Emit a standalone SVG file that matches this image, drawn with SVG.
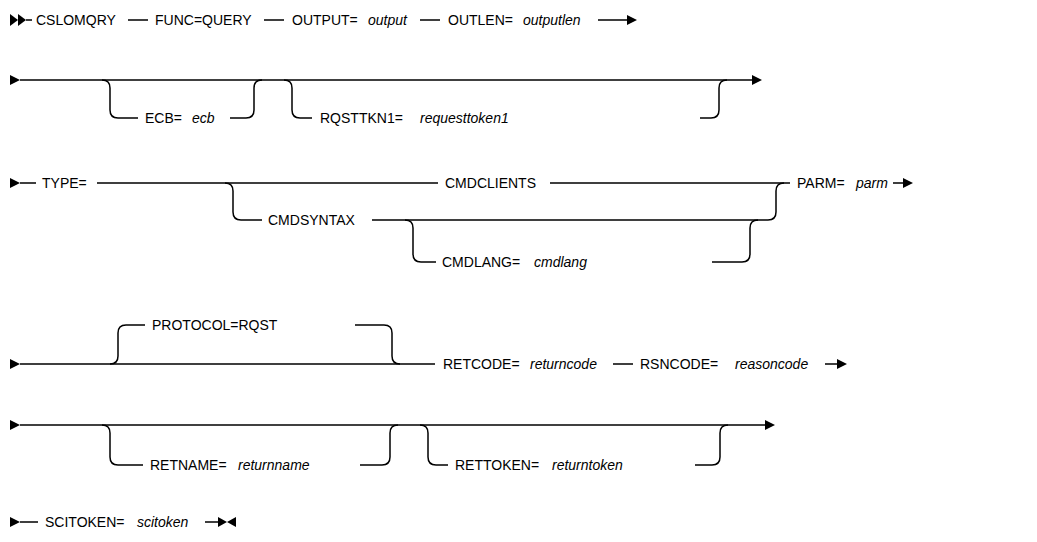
<svg xmlns="http://www.w3.org/2000/svg" width="1037" height="542" viewBox="0 0 1037 542">
<style>
.ln{stroke:#000;stroke-width:1.5;fill:none}
.ah{fill:#000;stroke:none}
.t{font-family:"Liberation Sans",Arial,sans-serif;font-size:14px;fill:#000}
.v{font-style:italic}
</style>
<rect width="1037" height="542" fill="#fff"/>
<g id="connectors">
<polygon class="ah" points="10,14 18,20 10,26"/><polygon class="ah" points="18,14 26,20 18,26"/>
<path class="ln" d="M26,20H32M128,20H148M264,20H284M420,20H440M598,20H628"/>
<polygon class="ah" points="627,15 637,20 627,25"/>
<polygon class="ah" points="10,75 20,80 10,85"/>
<path class="ln" d="M20,80H753"/>
<polygon class="ah" points="752,75 762,80 752,85"/>
<path class="ln" d="M102,80Q110,80 110,88V110Q110,118 118,118H138M230,118H246Q254,118 254,110V88Q254,80 262,80"/>
<path class="ln" d="M284,80Q292,80 292,88V110Q292,118 300,118H312M700,118H711Q719,118 719,110V88Q719,80 727,80"/>
<polygon class="ah" points="10,178 20,183 10,188"/>
<path class="ln" d="M20,183H36M97,183H438M550,183H790M893,183H904"/>
<polygon class="ah" points="903,178 913,183 903,188"/>
<path class="ln" d="M225,183Q233,183 233,191V212Q233,220 241,220H262M372,220H768Q776,220 776,212V191Q776,183 784,183"/>
<path class="ln" d="M405,220Q413,220 413,228V254Q413,262 421,262H436M712,262H742Q750,262 750,254V228Q750,220 758,220"/>
<polygon class="ah" points="10,359 20,364 10,369"/>
<path class="ln" d="M20,364H435M613,364H633M825,364H838"/>
<polygon class="ah" points="837,359 847,364 837,369"/>
<path class="ln" d="M110,364Q118,364 118,356V333Q118,325 126,325H145M355,325H384Q392,325 392,333V356Q392,364 400,364"/>
<polygon class="ah" points="10,420 20,425 10,430"/>
<path class="ln" d="M20,425H766"/>
<polygon class="ah" points="765,420 775,425 765,430"/>
<path class="ln" d="M102,425Q110,425 110,433V457Q110,465 118,465H143M360,465H382Q390,465 390,457V433Q390,425 398,425"/>
<path class="ln" d="M420,425Q428,425 428,433V457Q428,465 436,465H448M695,465H712Q720,465 720,457V433Q720,425 728,425"/>
<polygon class="ah" points="10,517 20,522 10,527"/>
<path class="ln" d="M20,522H38M205,522H219"/>
<polygon class="ah" points="218,517 227,522 218,527"/><polygon class="ah" points="236,517 227,522 236,527"/>
</g>
<g id="n-cslomqry"><text class="t" x="36" y="25">CSLOMQRY</text></g>
<g id="n-func"><text class="t" x="155" y="25">FUNC=QUERY</text></g>
<g id="n-output"><text class="t" x="292" y="25">OUTPUT=</text><text class="t v" x="368" y="25">output</text></g>
<g id="n-outlen"><text class="t" x="448" y="25">OUTLEN=</text><text class="t v" x="523" y="25">outputlen</text></g>
<g id="n-ecb"><text class="t" x="145" y="123">ECB=</text><text class="t v" x="192" y="123">ecb</text></g>
<g id="n-rqsttkn1"><text class="t" x="320" y="123">RQSTTKN1=</text><text class="t v" x="420" y="123">requesttoken1</text></g>
<g id="n-type"><text class="t" x="42" y="188">TYPE=</text></g>
<g id="n-cmdclients"><text class="t" x="445" y="188">CMDCLIENTS</text></g>
<g id="n-cmdsyntax"><text class="t" x="268" y="225">CMDSYNTAX</text></g>
<g id="n-cmdlang"><text class="t" x="442" y="267">CMDLANG=</text><text class="t v" x="534" y="267">cmdlang</text></g>
<g id="n-parm"><text class="t" x="797" y="188">PARM=</text><text class="t v" x="856" y="188">parm</text></g>
<g id="n-protocol"><text class="t" x="152" y="330">PROTOCOL=RQST</text></g>
<g id="n-retcode"><text class="t" x="443" y="369">RETCODE=</text><text class="t v" x="530" y="369">returncode</text></g>
<g id="n-rsncode"><text class="t" x="640" y="369">RSNCODE=</text><text class="t v" x="735" y="369">reasoncode</text></g>
<g id="n-retname"><text class="t" x="150" y="470">RETNAME=</text><text class="t v" x="238" y="470">returnname</text></g>
<g id="n-rettoken"><text class="t" x="455" y="470">RETTOKEN=</text><text class="t v" x="552" y="470">returntoken</text></g>
<g id="n-scitoken"><text class="t" x="45" y="527">SCITOKEN=</text><text class="t v" x="137" y="527">scitoken</text></g>
</svg>
